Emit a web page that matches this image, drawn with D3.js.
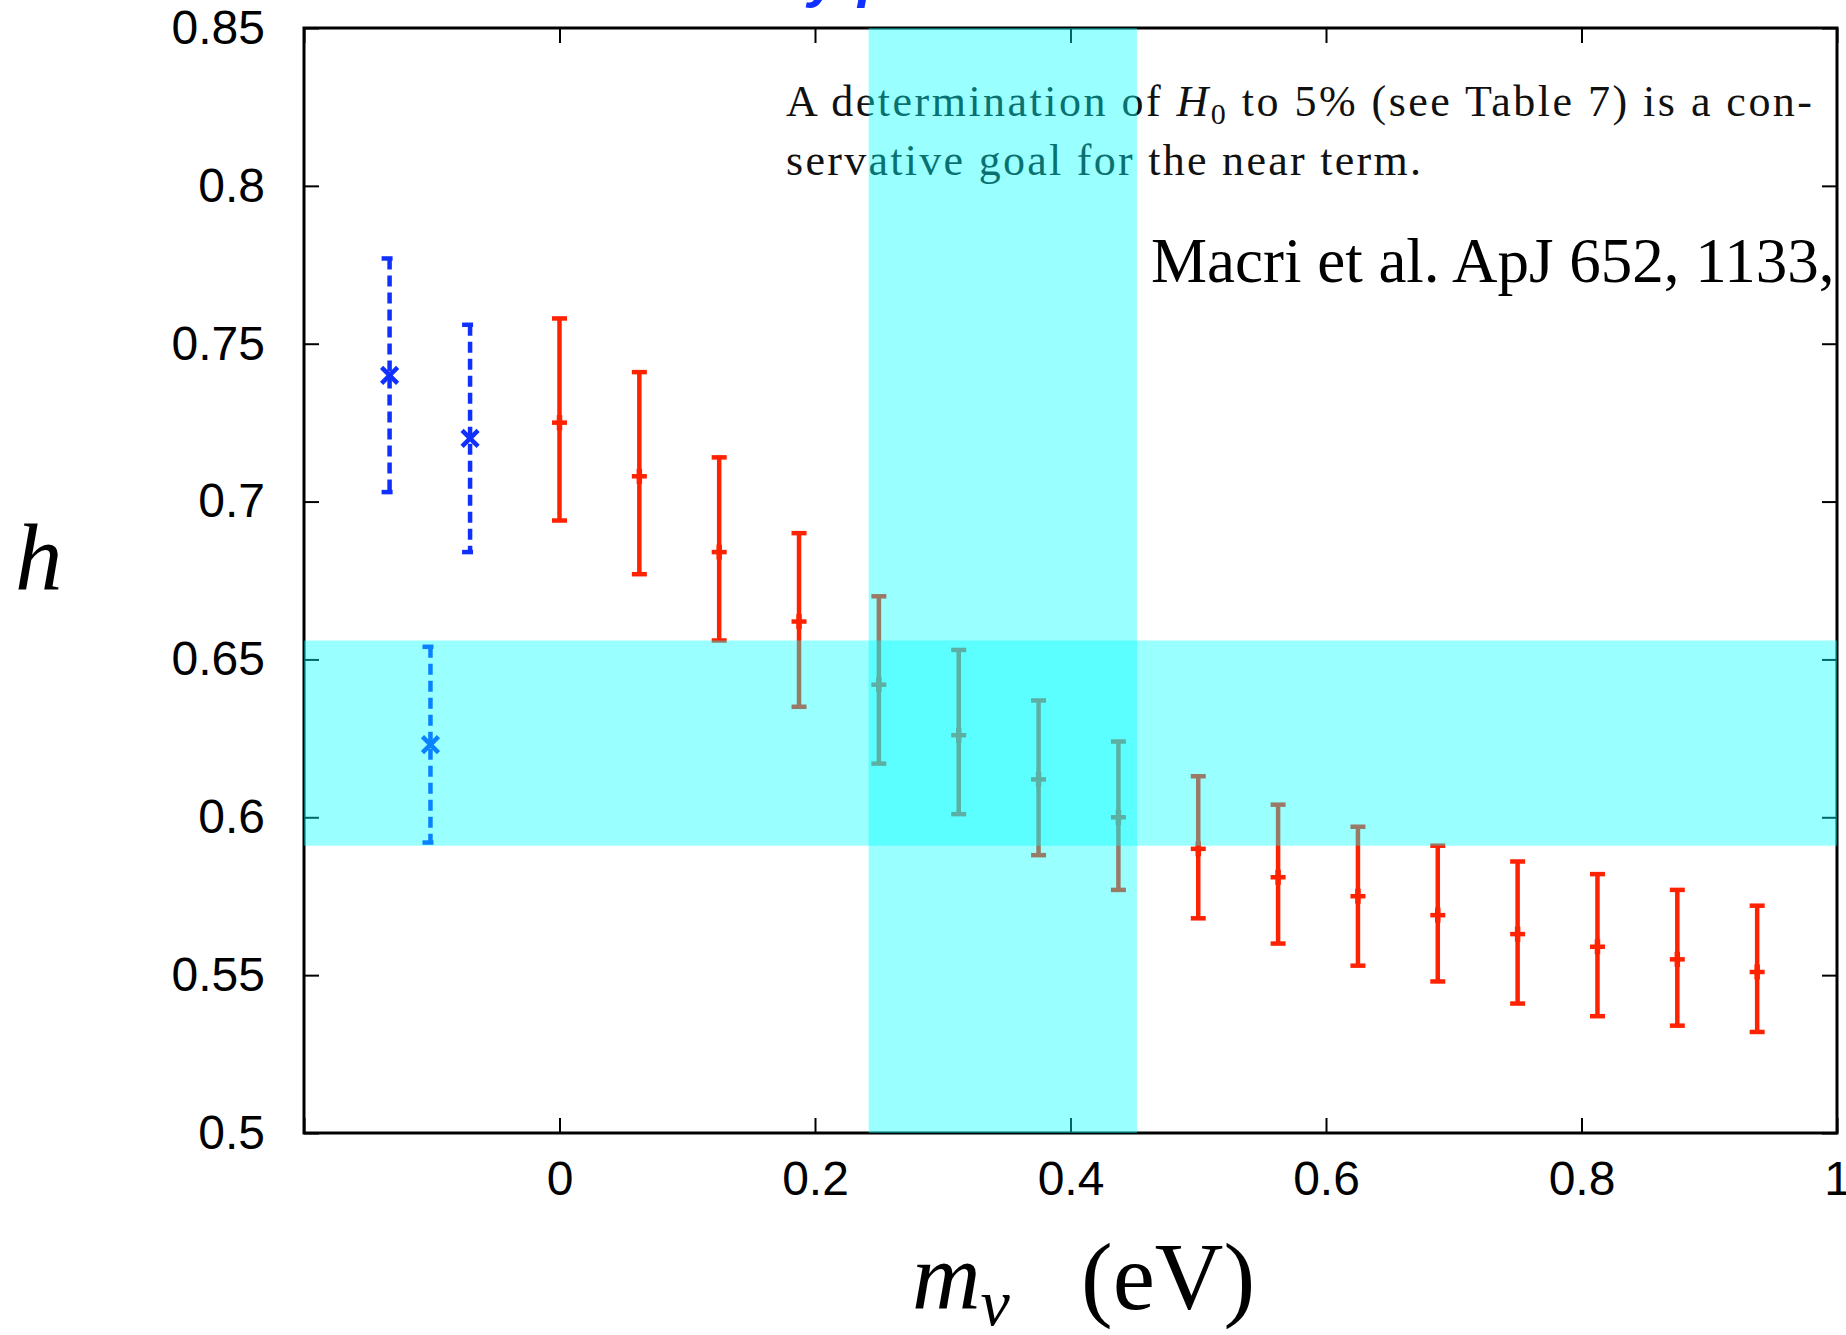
<!DOCTYPE html>
<html>
<head>
<meta charset="utf-8">
<title>h vs neutrino mass</title>
<script src="https://cdn.jsdelivr.net/npm/d3@7/dist/d3.min.js"></script>
<style>
  body { margin: 0; background: #fff; }
  svg { display: block; }
</style>
</head>
<body>
<div id="chart"></div>
<script>
// neutrino mass grid (eV) and the fitted h with its 1-sigma range
var mnu  = [0, 0.0625, 0.125, 0.1875, 0.25, 0.3125, 0.375, 0.4375,
            0.5, 0.5625, 0.625, 0.6875, 0.75, 0.8125, 0.875, 0.9375];
var hMid = [0.725, 0.708, 0.684, 0.662, 0.642, 0.626, 0.612, 0.600,
            0.590, 0.581, 0.575, 0.569, 0.563, 0.559, 0.555, 0.551];
var hLo  = [0.694, 0.677, 0.656, 0.635, 0.617, 0.601, 0.588, 0.577,
            0.568, 0.560, 0.553, 0.548, 0.541, 0.537, 0.534, 0.532];
var hHi  = [0.758, 0.741, 0.714, 0.690, 0.670, 0.653, 0.637, 0.624,
            0.613, 0.604, 0.597, 0.591, 0.586, 0.582, 0.577, 0.572];

// external h measurements drawn left of zero
var extX   = [-0.133, -0.101, -0.070];
var extMid = [0.740, 0.623, 0.720];
var extLo  = [0.703, 0.592, 0.684];
var extHi  = [0.777, 0.654, 0.756];

// shaded ranges
var mBand = [0.242, 0.452];
var hBand = [0.591, 0.656];

var xTicks = [-0.2, 0, 0.2, 0.4, 0.6, 0.8, 1];
var xLabels = ['', '0', '0.2', '0.4', '0.6', '0.8', '1'];
var yTicks = [0.5, 0.55, 0.6, 0.65, 0.7, 0.75, 0.8, 0.85];
var yLabels = ['0.5', '0.55', '0.6', '0.65', '0.7', '0.75', '0.8', '0.85'];

var W = 1846, H = 1335;
var svg = d3.select('#chart').append('svg').attr('width', W).attr('height', H);

var x = d3.scaleLinear().domain([-0.2, 1]).range([304, 1837]);
var y = d3.scaleLinear().domain([0.5, 0.85]).range([1133, 28]);

var sans = 'Liberation Sans, Arial, Helvetica, sans-serif';
var serif = 'Liberation Serif, Times New Roman, serif';

// axes, ticks inward on all four sides
function styleAxis(g) {
  g.select('.domain').remove();
  g.selectAll('.tick line').attr('stroke', '#000').attr('stroke-width', 2);
  g.selectAll('.tick text').attr('font-family', sans).attr('font-size', 48).attr('fill', '#000');
}

svg.append('g').attr('transform', 'translate(0,' + y(0.5) + ')')
  .call(d3.axisBottom(x).tickValues(xTicks).tickSize(-15).tickPadding(28)
    .tickFormat(function(d, i) { return xLabels[i]; }))
  .call(styleAxis);
svg.append('g').attr('transform', 'translate(0,' + y(0.85) + ')')
  .call(d3.axisTop(x).tickValues(xTicks).tickSize(-15).tickFormat(''))
  .call(styleAxis);
svg.append('g').attr('transform', 'translate(' + x(-0.2) + ',0)')
  .call(d3.axisLeft(y).tickValues(yTicks).tickSize(-15).tickPadding(39)
    .tickFormat(function(d, i) { return yLabels[i]; }))
  .call(styleAxis);
svg.append('g').attr('transform', 'translate(' + x(1) + ',0)')
  .call(d3.axisRight(y).tickValues(yTicks).tickSize(-15).tickFormat(''))
  .call(styleAxis);

svg.append('rect')
  .attr('x', x(-0.2)).attr('y', y(0.85))
  .attr('width', x(1) - x(-0.2)).attr('height', y(0.5) - y(0.85))
  .attr('fill', 'none').attr('stroke', '#000').attr('stroke-width', 3);

// axis titles
svg.append('text').attr('x', 15).attr('y', 590)
  .attr('font-family', serif).attr('font-style', 'italic').attr('font-size', 95)
  .text('h');

var xt = svg.append('text').attr('x', 912).attr('y', 1309)
  .attr('font-family', serif).attr('font-size', 95);
xt.append('tspan').attr('font-style', 'italic').text('m');
xt.append('tspan').attr('font-style', 'italic').attr('font-size', 66).attr('dy', 16).text('\u03bd');
xt.append('tspan').attr('dy', -16).attr('x', 1081).text('(eV)');

// quoted text
var t1 = svg.append('text').attr('x', 786).attr('y', 116)
  .attr('font-family', serif).attr('font-size', 44).attr('fill', '#111')
  .attr('textLength', 1026).attr('lengthAdjust', 'spacing');
t1.append('tspan').text('A determination of ');
t1.append('tspan').attr('font-style', 'italic').text('H');
t1.append('tspan').attr('font-size', 30).attr('dy', 8).text('0');
t1.append('tspan').attr('dy', -8).text(' to 5% (see Table 7) is a con-');

svg.append('text').attr('x', 786).attr('y', 175)
  .attr('font-family', serif).attr('font-size', 44).attr('fill', '#111')
  .attr('textLength', 635).attr('lengthAdjust', 'spacing')
  .text('servative goal for the near term.');

svg.append('text').attr('x', 1151).attr('y', 282)
  .attr('font-family', serif).attr('font-size', 63).attr('fill', '#000')
  .text('Macri et al. ApJ 652, 1133,');

// cut-off blue heading at the very top
var bt = svg.append('text').attr('y', -4)
  .attr('font-family', sans).attr('font-weight', 'bold').attr('font-style', 'italic')
  .attr('font-size', 56).attr('fill', '#1030ff');
bt.append('tspan').attr('x', 808).text('y');
bt.append('tspan').attr('x', 858).text('p');

// external measurements: dashed bars, left-starting caps, x markers
var blue = '#1030ff';
var ext = d3.range(extX.length);
var eg = svg.append('g').attr('stroke', blue).attr('stroke-width', 4.5).attr('fill', 'none');
eg.selectAll('line.bar').data(ext).enter().append('line').attr('class', 'bar')
  .attr('x1', function(i) { return x(extX[i]); }).attr('x2', function(i) { return x(extX[i]); })
  .attr('y1', function(i) { return y(extHi[i]); }).attr('y2', function(i) { return y(extLo[i]); })
  .attr('stroke-dasharray', '11,6');
[extHi, extLo].forEach(function(arr) {
  eg.selectAll(null).data(ext).enter().append('line')
    .attr('x1', function(i) { return x(extX[i]) - 8; }).attr('x2', function(i) { return x(extX[i]) + 8; })
    .attr('y1', function(i) { return y(arr[i]); }).attr('y2', function(i) { return y(arr[i]); })
    .attr('stroke-dasharray', '11,6');
});
eg.selectAll('path.mk').data(ext).enter().append('path').attr('class', 'mk')
  .attr('d', function(i) {
    var cx = x(extX[i]), cy = y(extMid[i]), s = 8;
    return 'M' + (cx - s) + ',' + (cy - s) + 'L' + (cx + s) + ',' + (cy + s) +
           'M' + (cx - s) + ',' + (cy + s) + 'L' + (cx + s) + ',' + (cy - s);
  });

// main series: solid red error bars with + markers
var red = '#ff2200';
var idx = d3.range(mnu.length);
var rg = svg.append('g').attr('stroke', red).attr('stroke-width', 4.5).attr('fill', 'none');
rg.selectAll('line.bar').data(idx).enter().append('line').attr('class', 'bar')
  .attr('x1', function(i) { return x(mnu[i]); }).attr('x2', function(i) { return x(mnu[i]); })
  .attr('y1', function(i) { return y(hHi[i]); }).attr('y2', function(i) { return y(hLo[i]); });
[hHi, hLo, hMid].forEach(function(arr) {
  rg.selectAll(null).data(idx).enter().append('line')
    .attr('x1', function(i) { return x(mnu[i]) - 7.5; }).attr('x2', function(i) { return x(mnu[i]) + 7.5; })
    .attr('y1', function(i) { return y(arr[i]); }).attr('y2', function(i) { return y(arr[i]); });
});
rg.selectAll('line.pv').data(idx).enter().append('line').attr('class', 'pv')
  .attr('stroke-width', 5.5)
  .attr('x1', function(i) { return x(mnu[i]); }).attr('x2', function(i) { return x(mnu[i]); })
  .attr('y1', function(i) { return y(hMid[i]) - 7.5; }).attr('y2', function(i) { return y(hMid[i]) + 7.5; });

// translucent cyan bands on top
svg.append('rect')
  .attr('x', x(mBand[0])).attr('y', y(0.85))
  .attr('width', x(mBand[1]) - x(mBand[0])).attr('height', y(0.5) - y(0.85))
  .attr('fill', '#00ffff').attr('fill-opacity', 0.4);
svg.append('rect')
  .attr('x', x(-0.2)).attr('y', y(hBand[1]))
  .attr('width', x(1) - x(-0.2)).attr('height', y(hBand[0]) - y(hBand[1]))
  .attr('fill', '#00ffff').attr('fill-opacity', 0.4);
</script>
</body>
</html>
